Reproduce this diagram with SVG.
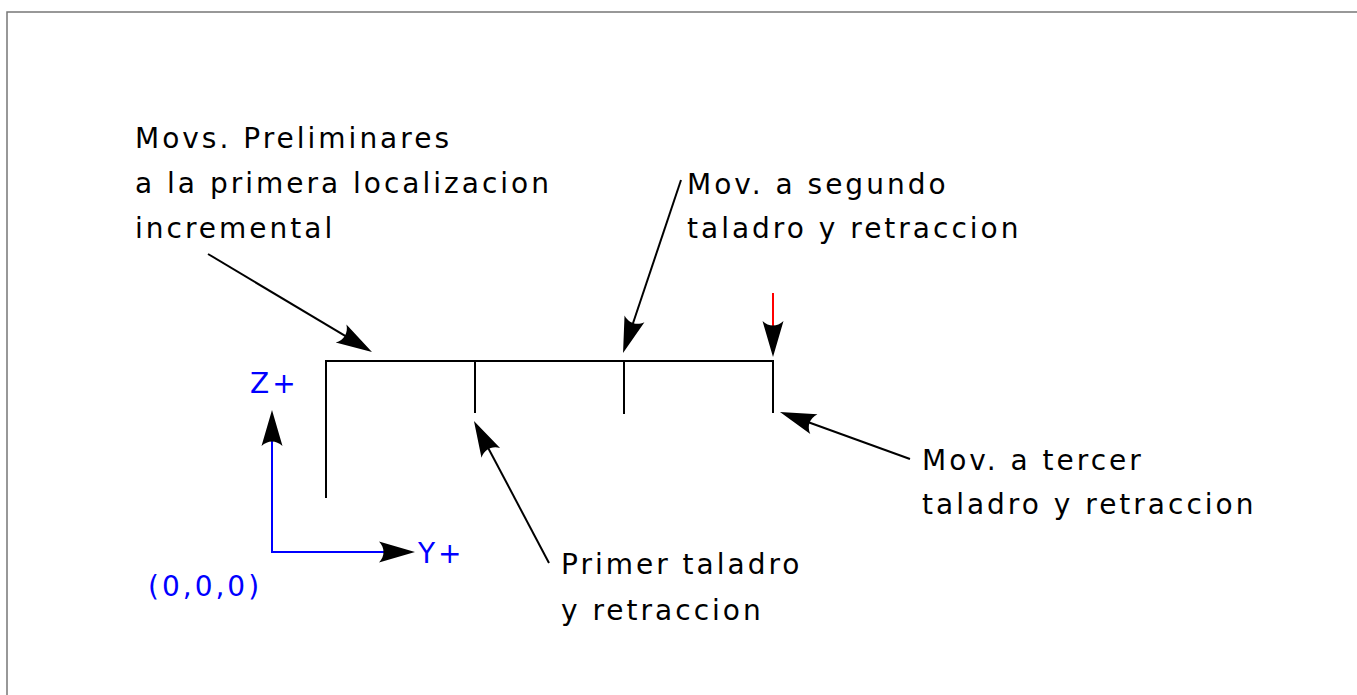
<svg xmlns="http://www.w3.org/2000/svg" width="1357" height="695" viewBox="0 0 1357 695">
<defs>
<style>
.t{font-family:"DejaVu Sans","Liberation Sans",sans-serif;font-size:28px;letter-spacing:3px;fill:#000}
.b{fill:#0000ff}
.ln{stroke:#000;stroke-width:2;fill:none}
.con{stroke:#000;stroke-width:2;fill:none;marker-end:url(#ah)}
</style>
<marker id="ah" markerUnits="userSpaceOnUse" orient="auto" refX="16" refY="0" markerWidth="40" markerHeight="30" overflow="visible">
<path d="M36,0 L0,-10.5 C6,-4 6,4 0,10.5 Z" fill="#000"/>
</marker>
</defs>
<rect x="7" y="12" width="1400" height="720" fill="#fff" stroke="#777" stroke-width="1.5"/>
<g id="pieza">
<path class="ln" d="M326,498 V361 H773 V413 M475,361 V413 M624,361 V414"/>
</g>
<g id="ejes">
<path d="M272,430 V552 H395" stroke="#0000ff" stroke-width="2" fill="none"/>
<text class="t b" x="250" y="393">Z+</text>
<text class="t b" x="418" y="563">Y+</text>
<text class="t b" x="148" y="596">(0,0,0)</text>
</g>
<g id="label-prelim">
<text class="t" x="135" y="148">Movs. Preliminares</text>
<text class="t" x="135" y="193">a la primera localizacion</text>
<text class="t" x="135" y="238">incremental</text>
</g>
<g id="label-segundo">
<text class="t" x="687" y="194">Mov. a segundo</text>
<text class="t" x="687" y="238">taladro y retraccion</text>
</g>
<g id="label-primer">
<text class="t" x="561" y="574">Primer taladro</text>
<text class="t" x="561" y="620">y retraccion</text>
</g>
<g id="label-tercer">
<text class="t" x="922" y="470">Mov. a tercer</text>
<text class="t" x="922" y="514">taladro y retraccion</text>
</g>
<g id="connectors">
<line class="con" x1="208" y1="254" x2="354.8" y2="341.7"/>
<line class="con" x1="681" y1="180" x2="629.4" y2="334"/>
<line class="con" x1="549" y1="563" x2="483.3" y2="438.7"/>
<line class="con" x1="910" y1="459" x2="798.8" y2="418.8"/>
<line x1="773" y1="293" x2="773" y2="337" stroke="#ff0000" stroke-width="2" marker-end="url(#ah)"/>
<line x1="272" y1="450" x2="272" y2="430" stroke="#0000ff" stroke-width="2" marker-end="url(#ah)"/>
<line x1="375" y1="552" x2="395" y2="552" stroke="#0000ff" stroke-width="2" marker-end="url(#ah)"/>
</g>
</svg>
